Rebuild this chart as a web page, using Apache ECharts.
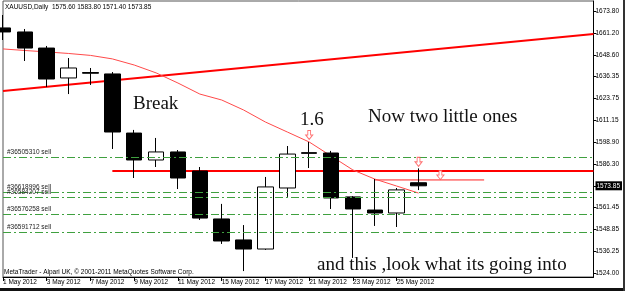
<!DOCTYPE html>
<html><head><meta charset="utf-8">
<script src="https://cdn.jsdelivr.net/npm/echarts@6/dist/echarts.min.js"></script>
<style>html,body{margin:0;padding:0;background:#fff}#c{width:625px;height:291px}</style>
</head><body><div id="c"></div>
<script>
// ---- data ----
const dates = ['1 May 2012','2 May 2012','3 May 2012','4 May 2012','7 May 2012','8 May 2012','9 May 2012','10 May 2012','11 May 2012','14 May 2012','15 May 2012','16 May 2012','17 May 2012','18 May 2012','21 May 2012','22 May 2012','23 May 2012','24 May 2012','25 May 2012','28 May 2012','29 May 2012','30 May 2012','31 May 2012','1 Jun 2012','4 Jun 2012','5 Jun 2012','6 Jun 2012','7 Jun 2012'];
const barCount = 20;
const opens  = [1664.1,1661.8,1652.6,1635.5,1638.6,1637.8,1604.0,1588.6,1593.2,1582.3,1554.9,1542.9,1537.7,1572.6,1592.8,1592.6,1567.5,1560.0,1558.3,1575.60];
const highs  = [1671.5,1663.5,1653.8,1646.9,1641.2,1638.9,1605.8,1601.2,1594.3,1584.6,1563.5,1551.4,1578.9,1596.6,1598.9,1593.8,1568.0,1577.7,1572.6,1583.80];
const lows   = [1657.2,1645.2,1630.3,1626.3,1631.5,1594.9,1578.3,1584.6,1572.0,1554.3,1540.6,1525.1,1537.2,1567.5,1584.0,1560.6,1532.6,1550.9,1550.3,1571.40];
const closes = [1661.8,1652.6,1634.9,1641.2,1638.2,1604.6,1588.6,1593.2,1578.3,1555.4,1542.3,1537.7,1573.2,1592.0,1592.4,1566.9,1560.6,1558.3,1571.5,1573.85];
const maValues = [1652.1,1651.2,1650.4,1649.5,1648.4,1646.4,1642.9,1638.4,1632.6,1626.3,1622.9,1617.2,1610.3,1604.6,1598.9,1590.9,1582.9,1577.7,1573.7,1569.7];
const yTicks = [1673.80,1661.20,1648.60,1636.35,1623.75,1611.15,1598.90,1586.30,1573.85,1561.45,1548.85,1536.25,1524.00];
const currentPrice = 1573.85;
const trendX = [0, 27];
const trendY = [1628.1, 1660.6];
const hLineX = [5, 27];
const hLineY = [1582.3, 1582.3];
const thinLineX = [17, 22];
const thinLineY = [1577.2, 1577.2];
const orderLevels = [1590.3, 1570.3, 1567.5, 1557.7, 1547.4];
const orderNames = ['#36505310 sell','#36618996 sell','#36584207 sell','#36576258 sell','#36591712 sell'];
const arrowX = [14, 19, 20];
const arrowY = [1602.9, 1587.5, 1580.0];

// ---- build ----
const candles = opens.map((o,i)=>[o, closes[i], lows[i], highs[i]]);
const SANS = '"Liberation Sans", Arial, sans-serif';
const SERIF = '"Liberation Serif", "Times New Roman", serif';
const chart = echarts.init(document.getElementById('c'), null, {renderer:'canvas'});
chart.setOption({
  animation:false,
  backgroundColor:'#fff',
  grid:{left:2,right:29,top:1,bottom:14,show:true,borderColor:'#555',borderWidth:1,backgroundColor:'#fff'},
  xAxis:{
    type:'category', data:dates, boundaryGap:false,
    axisLine:{lineStyle:{color:'#000',width:1}},
    axisTick:{length:4,lineStyle:{color:'#000'},interval:(i)=> i%2===0 && i<barCount},
    axisLabel:{interval:1,align:'left',margin:2,fontSize:6.5,fontFamily:SANS,color:'#000',
      formatter:(v,i)=> i<barCount ? v : ''},
    splitLine:{show:false}
  },
  yAxis:{
    type:'value', position:'right', min:1521.71, max:1679.5, scale:true,
    axisLine:{show:true,lineStyle:{color:'#000',width:1}},
    axisTick:{show:true,length:3,customValues:yTicks,lineStyle:{color:'#000'}},
    axisLabel:{customValues:yTicks,margin:2,fontSize:6.5,fontFamily:SANS,color:'#000',
      formatter:(v)=> Math.abs(v-currentPrice)<0.001 ? '{cur|'+v.toFixed(2)+'}' : v.toFixed(2),
      rich:{cur:{backgroundColor:'#000',color:'#fff',fontSize:6.5,fontFamily:SANS,padding:[1,2,1,1]}}},
    splitLine:{show:false}
  },
  series:[
    {type:'line', data:[], silent:true,
     markLine:{silent:true,symbol:'none',animation:false,
       lineStyle:{color:'#3fa03f',width:1,type:[8,3,2,3]},
       label:{position:'insideStartTop',distance:[4,1],fontSize:6.5,fontFamily:SANS,color:'#222',formatter:(p)=>p.name},
       data: orderLevels.map((v,i)=>({yAxis:v,name:orderNames[i]}))}},
    {type:'line', data:trendX.map((x,i)=>[x,trendY[i]]), symbol:'none', lineStyle:{color:'#ff0000',width:2}, z:3},
    {type:'line', data:hLineX.map((x,i)=>[x,hLineY[i]]), symbol:'none', lineStyle:{color:'#ff0000',width:2}, z:3},
    {type:'line', data:thinLineX.map((x,i)=>[x,thinLineY[i]]), symbol:'none', lineStyle:{color:'#ff2020',width:1}, z:3},
    {type:'line', data:maValues, symbol:'none', smooth:false, lineStyle:{color:'#ff4a4a',width:1}, z:3},
    {type:'candlestick', data:candles, barWidth:16, z:4,
     itemStyle:{color:'#fff',color0:'#000',borderColor:'#000',borderColor0:'#000',borderWidth:1}},
    {type:'scatter', data:arrowX.map((x,i)=>[x,arrowY[i]]), z:5,
     symbol:'path://M3,0 L7,0 L7,5 L10,5 L5,10 L0,5 L3,5 Z', symbolSize:[7,9],
     itemStyle:{color:'#fff',borderColor:'#ff5050',borderWidth:1}}
  ],
  graphic:[
    {type:'text',left:5,top:4,style:{text:'XAUUSD,Daily  1575.60 1583.80 1571.40 1573.85',font:'6.5px '+SANS,fill:'#000'}},
    {type:'text',left:4,top:269,style:{text:'MetaTrader - Alpari UK, © 2001-2011 MetaQuotes Software Corp.',font:'6.5px '+SANS,fill:'#000'}},
    {type:'text',x:133,y:104.3,style:{text:'Break',font:'19px '+SERIF,fill:'#111',verticalAlign:'middle'}},
    {type:'text',x:300,y:120,style:{text:'1.6',font:'19px '+SERIF,fill:'#111',verticalAlign:'middle'}},
    {type:'text',x:368,y:116.6,style:{text:'Now two little ones',font:'19px '+SERIF,fill:'#111',verticalAlign:'middle'}},
    {type:'text',x:317,y:265.3,style:{text:'and this ,look what its going into',font:'19px '+SERIF,fill:'#111',verticalAlign:'middle'}},
    {type:'rect',left:0,top:288,shape:{width:625,height:3},style:{fill:'#111'}},
    {type:'rect',left:623,top:0,shape:{width:2,height:291},style:{fill:'#333'}}
  ]
});
</script></body></html>
